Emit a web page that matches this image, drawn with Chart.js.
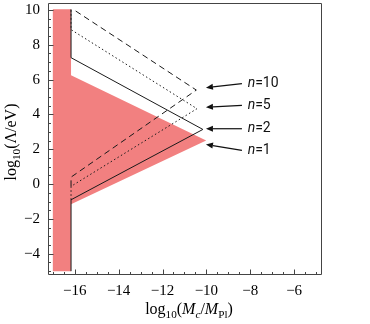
<!DOCTYPE html>
<html><head><meta charset="utf-8">
<script src="https://cdn.jsdelivr.net/npm/chart.js@4.4.1/dist/chart.umd.min.js"></script>
<style>html,body{margin:0;padding:0;background:#fff;} canvas{display:block;}</style>
</head><body>
<canvas id="c" width="370" height="324"></canvas>
<script>
// ---- data ----
const xRange = [-17.22, -4.73];
const yRange = [-5.22, 10.40];
const xTickValues = [-16, -14, -12, -10, -8, -6];
const yTickValues = [-4, -2, 0, 2, 4, 6, 8, 10];

// excluded (n=1) region
const regionX = [-17, -16.17, -16.17, -10.01, -16.17, -16.17, -17];
const regionY = [10.04, 10.04, 6.25, 2.51, -1.15, -5.0, -5.0];
// n=2 (solid)
const n2X = [-16.17, -16.17, -10.16, -16.17, -16.17];
const n2Y = [-5.0, -0.9, 3.14, 7.26, 10.04];
// n=5 (dotted)
const n5X = [-16.17, -16.17, -10.43, -16.17, -16.17];
const n5Y = [-0.9, -0.13, 4.33, 8.87, 10.04];
// n=10 (dashed)
const n10X = [-16.17, -16.17, -10.46, -16.08];
const n10Y = [-0.13, 0.40, 5.40, 10.04];

// labels with arrows
const labelText = ['10', '5', '2', '1'];
const labelX = [-8.12, -8.12, -8.12, -8.12];
const labelY = [5.77, 4.52, 3.18, 1.94];
const arrowTailX = [-8.38, -8.38, -8.38, -8.38];
const arrowTailY = [5.77, 4.52, 3.18, 1.94];
const arrowTipX = [-10.02, -10.02, -10.02, -10.02];
const arrowTipY = [5.54, 4.42, 3.18, 2.28];

const toPts = (xs, ys) => xs.map((x, i) => ({x: x, y: ys[i]}));
const fmt = v => (v < 0 ? '\u2212' + Math.abs(v) : String(v));

const PINK = 'rgb(242,128,128)';
const LINE = '#1a1a1a';
const FRAME = '#444';
const SERIF = "'Liberation Serif', 'Times New Roman', serif";

function drawRich(ctx, segs, size, cx, cy) {
  const subScale = 0.7;
  const fontOf = s => (s.it ? 'italic ' : '') + (s.sub ? size * subScale : size) + 'px ' + SERIF;
  let total = 0;
  segs.forEach(s => { ctx.font = fontOf(s); s.w = ctx.measureText(s.t).width; total += s.w; });
  let x = cx - total / 2;
  ctx.textBaseline = 'alphabetic';
  ctx.textAlign = 'left';
  segs.forEach(s => {
    ctx.font = fontOf(s);
    ctx.fillText(s.t, x, cy + (s.sub ? size * 0.22 : 0));
    x += s.w;
  });
}

const framePlugin = {
  id: 'frameTicks',
  afterDatasetsDraw(chart) {
    const ctx = chart.ctx, a = chart.chartArea;
    const xs = chart.scales.x, ys = chart.scales.y;
    ctx.save();
    ctx.strokeStyle = FRAME;
    ctx.lineWidth = 1;
    const L = Math.round(a.left) + 0.5, R = Math.round(a.right) - 0.5;
    const T = Math.round(a.top) + 0.5, B = Math.round(a.bottom) - 0.5;
    ctx.beginPath();
    ctx.rect(L, T, R - L, B - T);
    ctx.stroke();
    ctx.beginPath();
    for (let v = Math.ceil(xRange[0] * 2) / 2; v <= xRange[1]; v += 0.5) {
      const px = Math.round(xs.getPixelForValue(v)) + 0.5;
      const len = xTickValues.includes(v) ? 5 : 2.5;
      ctx.moveTo(px, B); ctx.lineTo(px, B - len);
    }
    for (let v = Math.ceil(yRange[0] * 2) / 2; v <= yRange[1]; v += 0.5) {
      const py = Math.round(ys.getPixelForValue(v)) + 0.5;
      const len = yTickValues.includes(v) ? 5 : 2.5;
      ctx.moveTo(L, py); ctx.lineTo(L + len, py);
    }
    ctx.stroke();
    ctx.restore();
  },
  afterDraw(chart) {
    const ctx = chart.ctx, a = chart.chartArea;
    const xs = chart.scales.x, ys = chart.scales.y;
    ctx.save();
    ctx.fillStyle = '#000';
    // x title
    drawRich(ctx, [
      {t: 'log'}, {t: '10', sub: true}, {t: '('}, {t: 'M', it: true}, {t: 'c', it: true, sub: true},
      {t: '/'}, {t: 'M', it: true}, {t: 'Pl', sub: true}, {t: ')'}
    ], 16, (a.left + a.right) / 2 + 4, 314);
    // y title
    ctx.save();
    ctx.translate(16, (a.top + a.bottom) / 2 + 3);
    ctx.rotate(-Math.PI / 2);
    drawRich(ctx, [{t: 'log'}, {t: '10', sub: true}, {t: '(\u039B/eV)'}], 16, 0, 0);
    ctx.restore();

    // annotations
    ctx.strokeStyle = '#111';
    ctx.fillStyle = '#111';
    ctx.lineWidth = 1.2;
    for (let i = 0; i < labelText.length; i++) {
      const x0 = xs.getPixelForValue(arrowTailX[i]), y0 = ys.getPixelForValue(arrowTailY[i]);
      const x1 = xs.getPixelForValue(arrowTipX[i]), y1 = ys.getPixelForValue(arrowTipY[i]);
      const ang = Math.atan2(y1 - y0, x1 - x0);
      const hl = 7, hw = 3;
      const bx = x1 - hl * Math.cos(ang), by = y1 - hl * Math.sin(ang);
      ctx.beginPath(); ctx.moveTo(x0, y0); ctx.lineTo(bx, by); ctx.stroke();
      ctx.beginPath();
      ctx.moveTo(x1, y1);
      ctx.lineTo(bx + hw * Math.sin(ang), by - hw * Math.cos(ang));
      ctx.lineTo(bx - hw * Math.sin(ang), by + hw * Math.cos(ang));
      ctx.closePath(); ctx.fill();
      const tx = xs.getPixelForValue(labelX[i]), ty = ys.getPixelForValue(labelY[i]);
      ctx.textBaseline = 'middle'; ctx.textAlign = 'left';
      ctx.font = "italic 14px Roboto, 'Noto Sans', sans-serif";
      ctx.fillText('n', tx, ty);
      const w = ctx.measureText('n').width;
      ctx.font = "14px Roboto, 'Noto Sans', sans-serif";
      ctx.fillText('=' + labelText[i], tx + w, ty);
    }
    ctx.restore();
  }
};

new Chart(document.getElementById('c'), {
  type: 'scatter',
  data: {
    datasets: [
      {data: toPts(n2X, n2Y), showLine: true, borderColor: LINE, borderWidth: 1, pointRadius: 0, fill: false, order: 1},
      {data: toPts(n5X, n5Y), showLine: true, borderColor: LINE, borderWidth: 1, borderDash: [1.5, 2.5], pointRadius: 0, fill: false, order: 2},
      {data: toPts(n10X, n10Y), showLine: true, borderColor: LINE, borderWidth: 1, borderDash: [6, 4], pointRadius: 0, fill: false, order: 3},
      {data: toPts(regionX, regionY), showLine: true, borderWidth: 0, borderColor: 'rgba(0,0,0,0)', backgroundColor: PINK, pointRadius: 0, fill: 'shape', order: 10}
    ]
  },
  options: {
    responsive: false,
    animation: false,
    devicePixelRatio: 1,
    layout: {padding: {left: 0, right: 48, top: 3, bottom: 0}},
    plugins: {legend: {display: false}, tooltip: {enabled: false}},
    scales: {
      x: {
        type: 'linear', min: xRange[0], max: xRange[1],
        afterBuildTicks: s => { s.ticks = xTickValues.map(v => ({value: v})); },
        afterFit: s => { s.height = 49; s.paddingLeft = 0; s.paddingRight = 0; s.paddingTop = 0; s.paddingBottom = 0; },
        grid: {display: false, drawTicks: false},
        border: {display: false},
        ticks: {font: {family: SERIF, size: 15}, color: '#000', padding: 7, maxRotation: 0, autoSkip: false, callback: v => fmt(v)}
      },
      y: {
        type: 'linear', min: yRange[0], max: yRange[1],
        afterBuildTicks: s => { s.ticks = yTickValues.map(v => ({value: v})); },
        afterFit: s => { s.width = 48; s.paddingLeft = 0; s.paddingRight = 0; s.paddingTop = 0; s.paddingBottom = 0; },
        grid: {display: false, drawTicks: false},
        border: {display: false},
        ticks: {font: {family: SERIF, size: 15}, color: '#000', padding: 8, autoSkip: false, callback: v => fmt(v)}
      }
    }
  },
  plugins: [framePlugin]
});
</script>
</body></html>
